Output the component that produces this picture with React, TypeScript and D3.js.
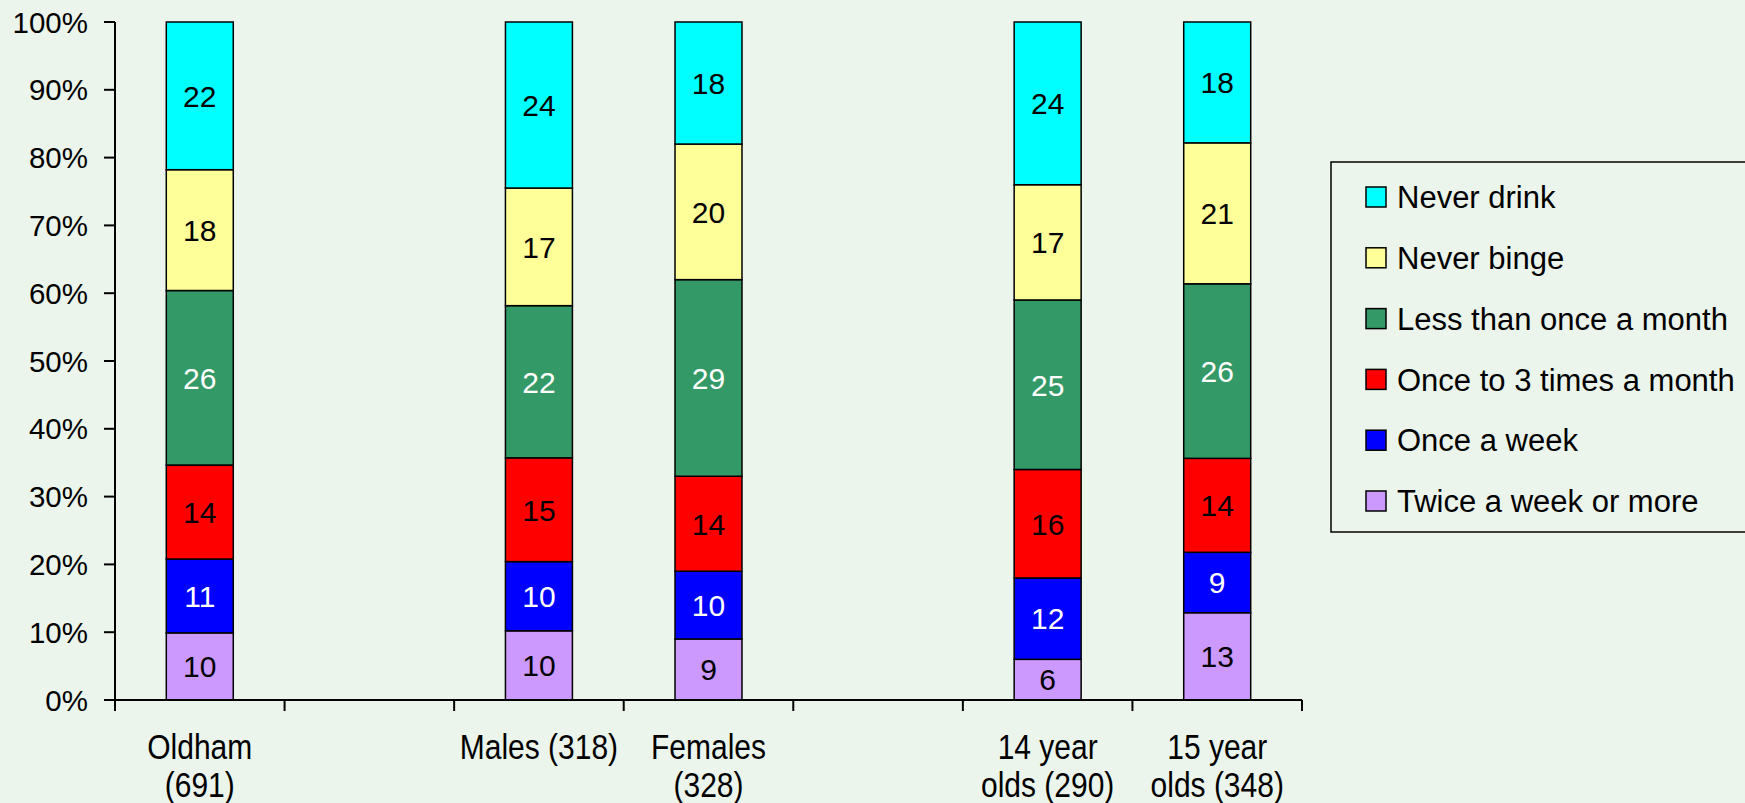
import React from "react";
import * as d3 from "d3";

const slots = ["oldham", "gap1", "males", "females", "gap2", "age14", "age15"];
const categories = ["oldham", "males", "females", "age14", "age15"];
const categoryLabels: Record<string, string[]> = {
  oldham: ["Oldham", "(691)"],
  males: ["Males (318)"],
  females: ["Females", "(328)"],
  age14: ["14 year", "olds (290)"],
  age15: ["15 year", "olds (348)"],
};
const seriesNames = [
  "Twice a week or more",
  "Once a week",
  "Once to 3 times a month",
  "Less than once a month",
  "Never binge",
  "Never drink",
];
const seriesColors = ["#CC99FF", "#0000FF", "#FF0000", "#339966", "#FFFF99", "#00FFFF"];
const labelColors = ["#000", "#fff", "#000", "#fff", "#000", "#000"];
const twiceWeek = [10, 10, 9, 6, 13];
const onceWeek = [11, 10, 10, 12, 9];
const onceTo3 = [14, 15, 14, 16, 14];
const lessThanMonth = [26, 22, 29, 25, 26];
const neverBinge = [18, 17, 20, 17, 21];
const neverDrink = [22, 24, 18, 24, 18];
const seriesValues = [twiceWeek, onceWeek, onceTo3, lessThanMonth, neverBinge, neverDrink];
const yTicks = [0, 0.1, 0.2, 0.3, 0.4, 0.5, 0.6, 0.7, 0.8, 0.9, 1];

const W = 1745;
const H = 803;
const FONT = "'Liberation Sans', Arial, sans-serif";

export default function App() {
  const rows = categories.map((c, i) => {
    const r: any = { cat: c };
    seriesNames.forEach((s, k) => (r[s] = seriesValues[k][i]));
    return r;
  });
  const stack = d3.stack<any>().keys(seriesNames).offset(d3.stackOffsetExpand);
  const stacked = stack(rows);

  const x = d3.scaleBand<string>().domain(slots).range([115, 1302]).paddingInner(0.605).paddingOuter(0.3025);
  const y = d3.scaleLinear().domain([0, 1]).range([700, 22]);
  const step = x.step();
  const bw = x.bandwidth();
  const boundaries = d3.range(slots.length + 1).map((i) => 115 + i * step);

  const legendRows = [5, 4, 3, 2, 1, 0];
  const legendY = d3.scalePoint<number>().domain(legendRows).range([197, 501]);

  return (
    <svg width={W} height={H} style={{ position: "absolute", left: 0, top: 0 }} fontFamily={FONT}>
      <rect x={0} y={0} width={W} height={H} fill="#EBF5EB" />
      {stacked.map((layer, k) =>
        layer.map((d, i) => {
          const cat = categories[i];
          const x0 = x(cat)!;
          const y0 = y(d[1]);
          const y1 = y(d[0]);
          return (
            <rect key={`${k}-${i}`} x={x0} y={y0} width={bw} height={y1 - y0} fill={seriesColors[k]} stroke="#000" strokeWidth={1.5} />
          );
        })
      )}
      {stacked.map((layer, k) =>
        layer.map((d, i) => {
          const cat = categories[i];
          const cx = x(cat)! + bw / 2;
          const cy = (y(d[0]) + y(d[1])) / 2;
          return (
            <text key={`t${k}-${i}`} x={cx} y={cy} dy="0.36em" textAnchor="middle" fontSize={30} fill={labelColors[k]}>
              {seriesValues[k][i]}
            </text>
          );
        })
      )}
      <line x1={115} x2={115} y1={y(1)} y2={y(0)} stroke="#000" strokeWidth={2} />
      {yTicks.map((t) => (
        <g key={t}>
          <line x1={104} x2={115} y1={y(t)} y2={y(t)} stroke="#000" strokeWidth={2} />
          <text x={88} y={y(t)} dy="0.36em" textAnchor="end" fontSize={29.5} fill="#000">
            {d3.format(".0%")(t)}
          </text>
        </g>
      ))}
      <line x1={115} x2={1302} y1={y(0)} y2={y(0)} stroke="#000" strokeWidth={2} />
      {boundaries.map((b, i) => (
        <line key={i} x1={b} x2={b} y1={y(0)} y2={y(0) + 11} stroke="#000" strokeWidth={2} />
      ))}
      {categories.map((c) => {
        const cx = x(c)! + bw / 2;
        return categoryLabels[c].map((line, j) => (
          <g key={`${c}${j}`} transform={`translate(${cx},${759 + j * 38}) scale(1,1.15)`}>
            <text x={0} y={0} textAnchor="middle" fontSize={30} fill="#000">
              {line}
            </text>
          </g>
        ));
      })}
      <rect x={1331} y={162} width={430} height={370} fill="none" stroke="#000" strokeWidth={1.5} />
      {legendRows.map((k) => {
        const ly = legendY(k)!;
        return (
          <g key={k}>
            <rect x={1366} y={ly - 10} width={20} height={20} fill={seriesColors[k]} stroke="#000" strokeWidth={1.5} />
            <text x={1397} y={ly} dy="0.36em" fontSize={31} fill="#000">
              {seriesNames[k]}
            </text>
          </g>
        );
      })}
    </svg>
  );
}
